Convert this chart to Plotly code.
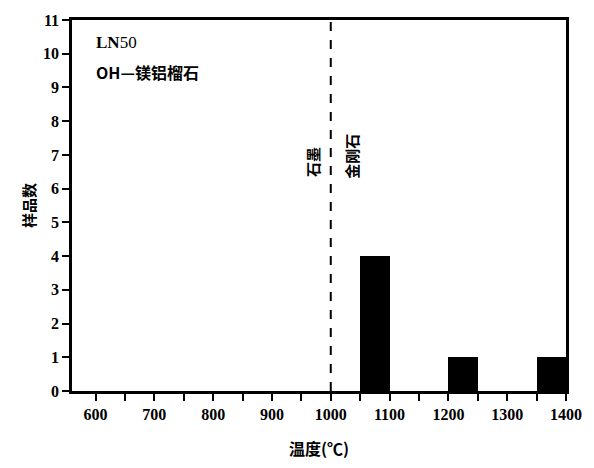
import plotly.graph_objects as go

# Histogram of formation temperatures (bin edges and counts)
bin_left = [1050, 1200, 1350]
bin_width = 50
counts = [4, 1, 1]

x_ticks = [600, 700, 800, 900, 1000, 1100, 1200, 1300, 1400]
y_ticks = list(range(0, 12))
boundary_temp = 1000  # graphite / diamond boundary

serif = "Liberation Serif"
cjk = "Noto Sans CJK SC"

fig = go.Figure()
fig.add_trace(go.Bar(
    x=[b + bin_width / 2 for b in bin_left],
    y=counts,
    width=[bin_width] * len(bin_left),
    marker=dict(color="black", line=dict(width=0)),
    showlegend=False,
))

fig.add_shape(type="line", x0=boundary_temp, x1=boundary_temp, y0=0, y1=11,
              xref="x", yref="y", line=dict(color="black", width=2, dash="dash"))

fig.add_annotation(x=boundary_temp, y=6.8, xref="x", yref="y", text="<b>石墨</b>",
                   textangle=-90, showarrow=False, xanchor="right", xshift=-6,
                   font=dict(family=cjk, size=15, color="black"))
fig.add_annotation(x=boundary_temp, y=6.95, xref="x", yref="y", text="<b>金刚石</b>",
                   textangle=-90, showarrow=False, xanchor="left", xshift=8,
                   font=dict(family=cjk, size=15, color="black"))

fig.add_annotation(x=0.045, y=0.94, xref="paper", yref="paper", text="<b>LN</b>50",
                   showarrow=False, xanchor="left", yanchor="middle",
                   font=dict(family=serif, size=17, color="black"))
fig.add_annotation(x=0.045, y=0.86, xref="paper", yref="paper",
                   text="<b>OH</b><b>—镁铝榴石</b>",
                   showarrow=False, xanchor="left", yanchor="middle",
                   font=dict(family=cjk, size=16, color="black"))

tick_font = dict(family=serif, size=16, color="black")

fig.update_layout(
    width=594, height=468,
    margin=dict(l=72, r=27, t=12, b=75),
    plot_bgcolor="white", paper_bgcolor="white",
    bargap=0,
    xaxis=dict(
        range=[560, 1400], tickvals=x_ticks,
        ticktext=[f"<b>{v}</b>" for v in x_ticks],
        ticks="outside", ticklen=7,
        tickwidth=2, tickcolor="black", showline=True, linewidth=2.5,
        linecolor="black", mirror=True, showgrid=False, zeroline=False,
        minor=dict(dtick=50, tick0=550, ticks="outside", ticklen=7,
                   tickwidth=2, tickcolor="black", showgrid=False),
        tickfont=tick_font,
        title=dict(text="<b>温度(℃)</b>", font=dict(family=cjk, size=16, color="black"),
                   standoff=22),
    ),
    yaxis=dict(
        range=[0, 11], tickvals=y_ticks,
        ticktext=[f"<b>{v}</b>" for v in y_ticks],
        ticks="outside", ticklen=7,
        tickwidth=2, tickcolor="black", showline=True, linewidth=2.5,
        linecolor="black", mirror=True, showgrid=False, zeroline=False,
        tickfont=tick_font,
        title=dict(text="<b>样品数</b>", font=dict(family=cjk, size=15, color="black"),
                   standoff=4),
    ),
)

fig.write_html("out.html")
